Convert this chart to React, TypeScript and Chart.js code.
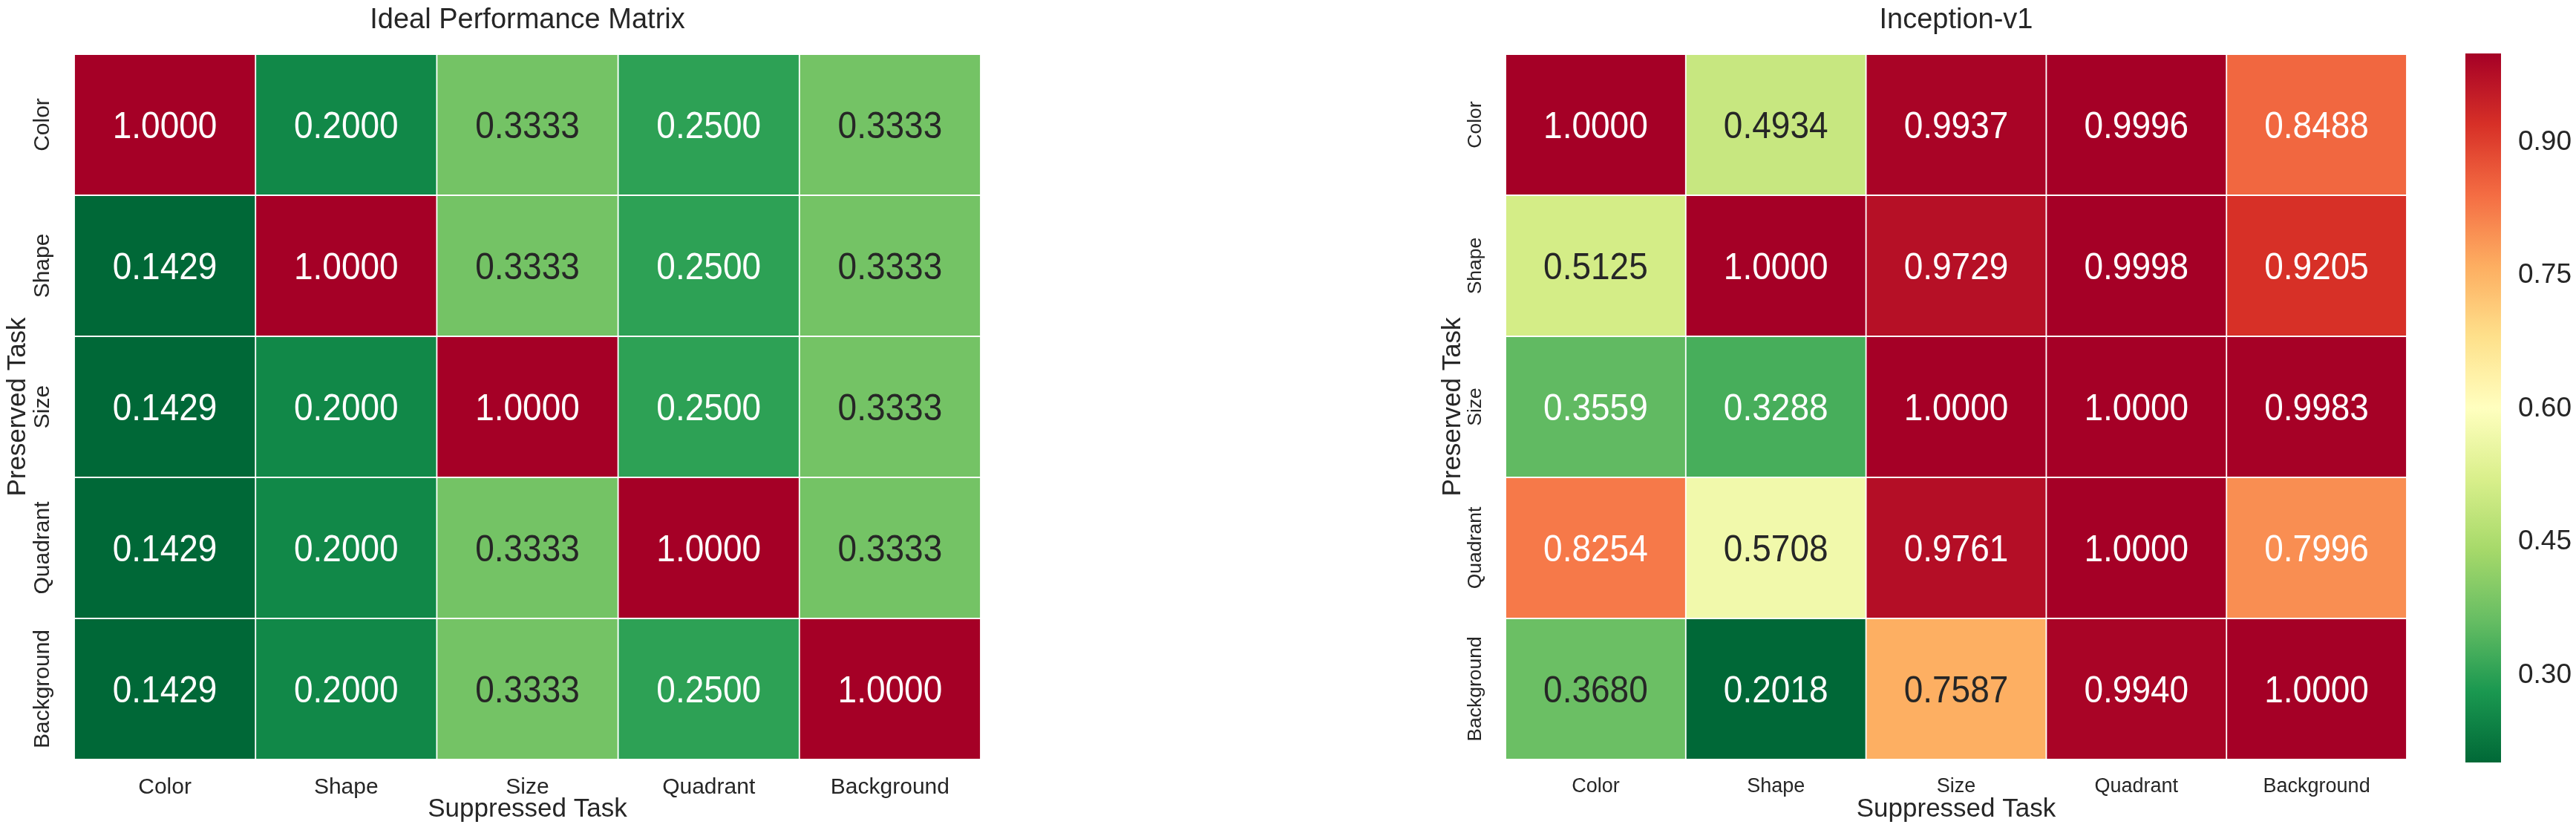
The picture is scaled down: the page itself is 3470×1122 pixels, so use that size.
import React, { useEffect, useRef } from 'react';
import { Chart, registerables } from 'chart.js';

Chart.register(...registerables);

// ---------------- DATA ----------------
const suppressedTasks = ['Color', 'Shape', 'Size', 'Quadrant', 'Background'];
const preservedTasks = ['Color', 'Shape', 'Size', 'Quadrant', 'Background'];

const idealColor = [1.0, 0.2, 0.3333, 0.25, 0.3333];
const idealShape = [0.1429, 1.0, 0.3333, 0.25, 0.3333];
const idealSize = [0.1429, 0.2, 1.0, 0.25, 0.3333];
const idealQuadrant = [0.1429, 0.2, 0.3333, 1.0, 0.3333];
const idealBackground = [0.1429, 0.2, 0.3333, 0.25, 1.0];

const incColor = [1.0, 0.4934, 0.9937, 0.9996, 0.8488];
const incShape = [0.5125, 1.0, 0.9729, 0.9998, 0.9205];
const incSize = [0.3559, 0.3288, 1.0, 1.0, 0.9983];
const incQuadrant = [0.8254, 0.5708, 0.9761, 1.0, 0.7996];
const incBackground = [0.368, 0.2018, 0.7587, 0.994, 1.0];

const colorbarTicks = [0.3, 0.45, 0.6, 0.75, 0.9];

const idealValues = [idealColor, idealShape, idealSize, idealQuadrant, idealBackground];
const inceptionValues = [incColor, incShape, incSize, incQuadrant, incBackground];

// ---------------- STYLE ----------------
const FONT = "'Liberation Sans', Arial, Helvetica, sans-serif";
const TEXT = '#262626';
const RDYLGN = ['#a50026', '#d73027', '#f46d43', '#fdae61', '#fee08b', '#ffffbf', '#d9ef8b', '#a6d96a', '#66bd63', '#1a9850', '#006837'];

function hexToRgb(h: string): number[] {
  const n = parseInt(h.slice(1), 16);
  return [(n >> 16) & 255, (n >> 8) & 255, n & 255];
}
const RDYLGN_RGB = RDYLGN.map(hexToRgb);

// RdYlGn_r : t=0 -> dark green, t=1 -> dark red
function cmapRGB(t: number): number[] {
  const c = Math.max(0, Math.min(1, t));
  const s = (1 - c) * 10;
  const i = Math.min(9, Math.floor(s));
  const f = s - i;
  const a = RDYLGN_RGB[i];
  const b = RDYLGN_RGB[i + 1];
  return [0, 1, 2].map((k) => Math.round(a[k] + (b[k] - a[k]) * f));
}
function cmap(t: number): string {
  const [r, g, b] = cmapRGB(t);
  return `rgb(${r},${g},${b})`;
}
function textColorFor(t: number): string {
  const rgb = cmapRGB(t).map((v) => {
    const c = v / 255;
    return c <= 0.03928 ? c / 12.92 : Math.pow((c + 0.055) / 1.055, 2.4);
  });
  const lum = 0.2126 * rgb[0] + 0.7152 * rgb[1] + 0.0722 * rgb[2];
  return lum > 0.408 ? TEXT : '#ffffff';
}

interface HeatmapProps {
  values: number[][];
  rows: string[];
  cols: string[];
  title: string;
  left: number;
  width: number;
  yAxisWidth: number;
  padRight: number;
  xTickSize: number;
  yTickSize: number;
  yTickDist: number;
  yTitlePad: number;
}

function Heatmap(p: HeatmapProps) {
  const ref = useRef<HTMLCanvasElement>(null);
  useEffect(() => {
    if (!ref.current) return;
    const flat = p.values.flat();
    const vmin = Math.min(...flat);
    const vmax = Math.max(...flat);
    const norm = (v: number) => (v - vmin) / (vmax - vmin);

    const mctx = document.createElement('canvas').getContext('2d')!;
    mctx.font = `${p.yTickSize}px ${FONT}`;
    const widest = Math.max(...p.rows.map((r) => mctx.measureText(r).width));

    const datasets = p.rows.map((r, ri) => ({
      label: r,
      data: p.cols.map(() => [ri, ri + 1]),
      backgroundColor: p.values[ri].map((v) => cmap(norm(v))),
      borderColor: '#ffffff',
      borderWidth: 1.25,
      borderSkipped: false,
      grouped: false,
      barPercentage: 1,
      categoryPercentage: 1,
    }));

    const annot = {
      id: 'annot',
      afterDatasetsDraw(chart: any) {
        const c = chart.ctx;
        const size = 46;
        chart.data.datasets.forEach((_ds: any, di: number) => {
          const meta = chart.getDatasetMeta(di);
          meta.data.forEach((el: any, j: number) => {
            const v = p.values[di][j];
            const { x, y, base } = el.getProps(['x', 'y', 'base'], true);
            const cy = (y + base) / 2;
            c.save();
            c.translate(x, cy);
            c.scale(1, 1.1);
            c.font = `${size}px ${FONT}`;
            c.textAlign = 'center';
            c.textBaseline = 'alphabetic';
            c.fillStyle = textColorFor(norm(v));
            c.fillText(v.toFixed(4), 0, (size * 0.716) / 2);
            c.restore();
          });
        });
      },
    };

    const chart = new Chart(ref.current, {
      type: 'bar',
      data: { labels: p.cols, datasets: datasets as any },
      plugins: [annot],
      options: {
        responsive: false,
        maintainAspectRatio: false,
        animation: false,
        layout: { padding: { left: 0, right: p.padRight, top: 0, bottom: 0 } },
        plugins: {
          legend: { display: false },
          tooltip: { enabled: false },
          title: {
            display: true,
            text: p.title,
            fullSize: false,
            color: TEXT,
            font: { family: FONT, size: 38, weight: 'normal' },
            padding: { top: 5, bottom: 22.4 },
          },
        },
        scales: {
          x: {
            type: 'category',
            grid: { display: false },
            border: { display: false },
            ticks: {
              color: TEXT,
              font: { family: FONT, size: p.xTickSize },
              padding: 12,
              autoSkip: false,
              minRotation: 0,
              maxRotation: 0,
            },
            title: {
              display: true,
              text: 'Suppressed Task',
              color: TEXT,
              font: { family: FONT, size: 35 },
              padding: { top: 0, bottom: 11 },
            },
            afterFit: (s: any) => {
              s.height = 99;
            },
          },
          y: {
            type: 'linear',
            min: 0,
            max: p.rows.length,
            reverse: true,
            grid: { display: false },
            border: { display: false },
            afterBuildTicks: (s: any) => {
              s.ticks = p.rows.map((_r, i) => ({ value: i + 0.5 }));
            },
            ticks: {
              color: TEXT,
              font: { family: FONT, size: p.yTickSize },
              autoSkip: false,
              minRotation: 90,
              maxRotation: 90,
              crossAlign: 'center',
              padding: p.yTickDist - widest / 2,
              callback: (_v: any, i: number) => p.rows[i],
            },
            title: {
              display: true,
              text: 'Preserved Task',
              color: TEXT,
              font: { family: FONT, size: 35 },
              padding: { top: p.yTitlePad, bottom: 0 },
            },
            afterFit: (s: any) => {
              s.width = p.yAxisWidth;
            },
          },
        },
      } as any,
    });
    return () => chart.destroy();
  }, []);
  return (
    <canvas
      ref={ref}
      width={p.width}
      height={1122}
      style={{ position: 'absolute', left: p.left, top: 0, width: p.width, height: 1122 }}
    />
  );
}

function Colorbar({ values, left }: { values: number[][]; left: number }) {
  const ref = useRef<HTMLCanvasElement>(null);
  useEffect(() => {
    if (!ref.current) return;
    const flat = values.flat();
    const vmin = Math.min(...flat);
    const vmax = Math.max(...flat);
    const chart = new Chart(ref.current, {
      type: 'bar',
      data: {
        labels: [''],
        datasets: [
          {
            data: [[vmin, vmax]] as any,
            backgroundColor: (ctx: any) => {
              const ch = ctx.chart;
              const ys = ch.scales.y;
              if (!ys || !ch.chartArea) return 'transparent';
              const g = ch.ctx.createLinearGradient(0, ys.getPixelForValue(vmin), 0, ys.getPixelForValue(vmax));
              for (let k = 0; k <= 40; k++) g.addColorStop(k / 40, cmap(k / 40));
              return g;
            },
            borderWidth: 0,
            barPercentage: 1,
            categoryPercentage: 1,
          },
        ],
      },
      options: {
        responsive: false,
        maintainAspectRatio: false,
        animation: false,
        layout: { padding: { left: 1, right: 0, top: 72, bottom: 95 } },
        plugins: { legend: { display: false }, tooltip: { enabled: false } },
        scales: {
          x: { display: false },
          y: {
            position: 'right',
            min: vmin,
            max: vmax,
            grid: { display: false },
            border: { display: false },
            afterBuildTicks: (s: any) => {
              s.ticks = colorbarTicks.map((v) => ({ value: v }));
            },
            ticks: {
              color: TEXT,
              font: { family: FONT, size: 37 },
              padding: 15,
              autoSkip: false,
              callback: (_v: any, i: number) => colorbarTicks[i].toFixed(2),
            },
            afterFit: (s: any) => {
              s.width = 101;
            },
          },
        },
      } as any,
    });
    return () => chart.destroy();
  }, []);
  return (
    <canvas
      ref={ref}
      width={150}
      height={1122}
      style={{ position: 'absolute', left, top: 0, width: 150, height: 1122 }}
    />
  );
}

export default function App() {
  return (
    <div style={{ position: 'fixed', left: 0, top: 0, width: 3470, height: 1122, background: '#ffffff', overflow: 'hidden' }}>
      <Heatmap
        values={idealValues}
        rows={preservedTasks}
        cols={suppressedTasks}
        title="Ideal Performance Matrix"
        left={0}
        width={1400}
        yAxisWidth={100}
        padRight={79}
        xTickSize={30}
        yTickSize={30}
        yTickDist={34}
        yTitlePad={3}
      />
      <Heatmap
        values={inceptionValues}
        rows={preservedTasks}
        cols={suppressedTasks}
        title="Inception-v1"
        left={1880}
        width={1440}
        yAxisWidth={148}
        padRight={78}
        xTickSize={27}
        yTickSize={26.5}
        yTickDist={32}
        yTitlePad={56}
      />
      <Colorbar values={inceptionValues} left={3320} />
    </div>
  );
}
